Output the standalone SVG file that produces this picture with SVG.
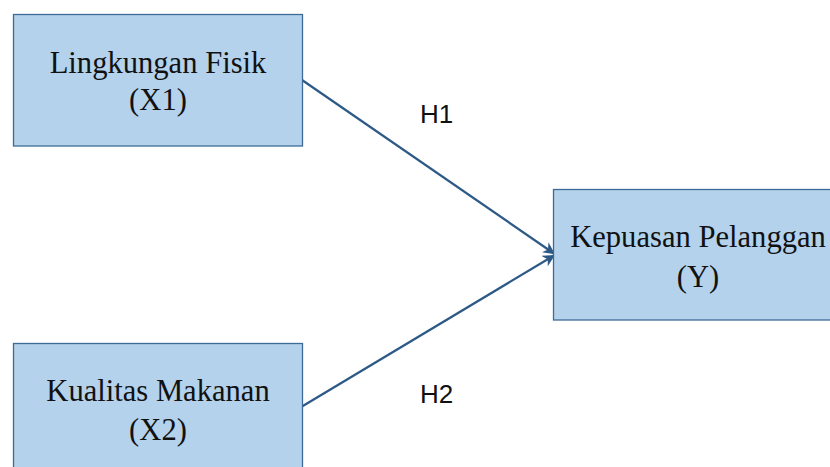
<svg xmlns="http://www.w3.org/2000/svg" width="830" height="467" viewBox="0 0 830 467">
<style>
.box{fill:#B4D2EC;stroke:#3E6B96;stroke-width:1.3}
.lbl{font-family:"Liberation Serif","Times New Roman",serif;font-size:30.6px;fill:#111;text-anchor:middle}
.h{font-family:"Liberation Sans",Arial,sans-serif;font-size:26px;fill:#111;text-anchor:middle}
.conn{stroke:#2D5986;stroke-width:2.2;fill:none;marker-end:url(#ah)}
</style>
<defs>
<marker id="ah" viewBox="0 0 10 10" refX="9" refY="5" markerWidth="5.5" markerHeight="5.5" markerUnits="strokeWidth" orient="auto">
<path d="M0,0 L10,5 L0,10 L3,5 Z" fill="#2D5986"/>
</marker>
</defs>
<rect width="830" height="467" fill="#FFFFFF"/>
<g id="connectors">
<line class="conn" x1="302" y1="80" x2="554" y2="253.5"/>
<line class="conn" x1="302" y1="406.5" x2="554" y2="255.5"/>
<text class="h" x="436.5" y="123">H1</text>
<text class="h" x="436.5" y="403">H2</text>
</g>
<g id="x1">
<rect class="box" x="13.5" y="14.5" width="289" height="131.5"/>
<text class="lbl" x="158" y="73">Lingkungan Fisik</text>
<text class="lbl" x="158" y="110">(X1)</text>
</g>
<g id="x2">
<rect class="box" x="13.5" y="343.5" width="289" height="131"/>
<text class="lbl" x="158" y="401">Kualitas Makanan</text>
<text class="lbl" x="158" y="440">(X2)</text>
</g>
<g id="y">
<rect class="box" x="553.5" y="189.5" width="290" height="130.5"/>
<text class="lbl" x="698" y="247">Kepuasan Pelanggan</text>
<text class="lbl" x="698" y="287">(Y)</text>
</g>
</svg>
